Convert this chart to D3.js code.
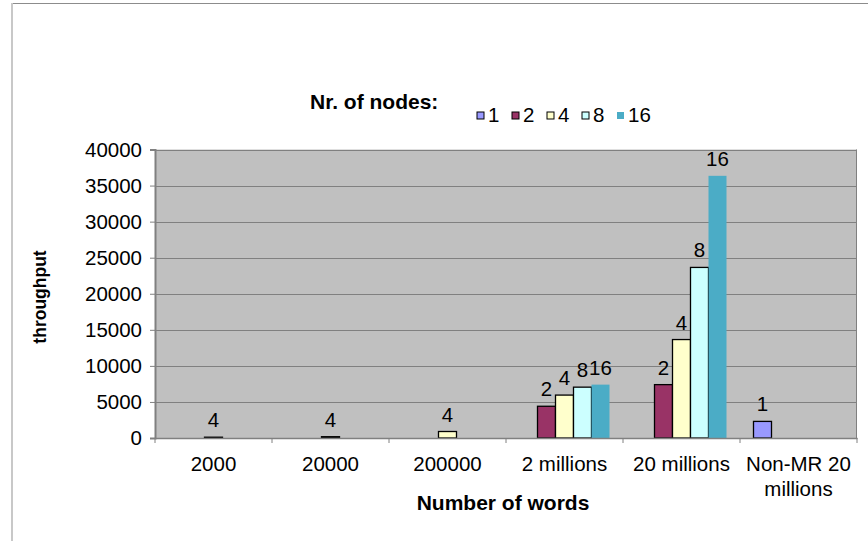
<!DOCTYPE html>
<html><head><meta charset="utf-8">
<script src="https://cdn.jsdelivr.net/npm/d3@7"></script>
<style>
html,body{margin:0;padding:0;background:#fff;}
svg{display:block;font-family:"Liberation Sans",Arial,Helvetica,sans-serif;}
</style></head>
<body>
<svg id="c" width="868" height="541"></svg>
<script>
const categories = ["2000", "20000", "200000", "2 millions", "20 millions", "Non-MR 20 millions"];
const seriesNames = ["1", "2", "4", "8", "16"];
const seriesColors = ["#9999FF", "#993366", "#FFFFCC", "#CCFFFF", "#4BACC6"];
// values per series, aligned with categories (null = no bar)
const s1  = [null, null, null, null, null, 2300];
const s2  = [null, null, null, 4400, 7400, null];
const s4  = [110, 180, 900, 5950, 13650, null];
const s8  = [null, null, null, 7050, 23650, null];
const s16 = [null, null, null, 7400, 36350, null];
const seriesValues = [s1, s2, s4, s8, s16];
const yTicks = [0, 5000, 10000, 15000, 20000, 25000, 30000, 35000, 40000];

const svg = d3.select("#c");
const L = 155, R = 857, T = 149.5, B = 438;
const FS = 20.5;

// outer frame
svg.append("line").attr("x1", 11).attr("x2", 868).attr("y1", 3.5).attr("y2", 3.5).attr("stroke", "#8c8c8c").attr("stroke-width", 1.2);
svg.append("line").attr("x1", 12).attr("x2", 12).attr("y1", 3).attr("y2", 541).attr("stroke", "#c8c8c8").attr("stroke-width", 2);

const x = d3.scaleBand().domain(categories).range([L, R]).padding(0);
const xi = d3.scaleBand().domain(seriesNames).range([x.step() * 1.5 / 13, x.step() * 11.5 / 13]).padding(0);
const y = d3.scaleLinear().domain([0, 40000]).range([B, T]);

// plot area
svg.append("rect").attr("x", L).attr("y", T).attr("width", R - L).attr("height", B - T).attr("fill", "#C0C0C0");
// gridlines
svg.append("g").selectAll("line").data(yTicks.slice(1)).join("line")
  .attr("x1", L).attr("x2", R).attr("y1", d => Math.round(y(d)) + 0.5).attr("y2", d => Math.round(y(d)) + 0.5)
  .attr("stroke", "#808080").attr("stroke-width", 1);
svg.append("line").attr("x1", R - 0.5).attr("x2", R - 0.5).attr("y1", T).attr("y2", B).attr("stroke", "#808080");

// bars
const flat = [];
seriesValues.forEach((arr, si) => arr.forEach((v, ci) => { if (v != null) flat.push({ci, si, v}); }));
const bars = svg.append("g");
bars.selectAll("rect").data(flat).join("rect")
  .attr("x", d => x(categories[d.ci]) + xi(seriesNames[d.si]))
  .attr("y", d => y(d.v))
  .attr("width", xi.bandwidth())
  .attr("height", d => B - y(d.v))
  .attr("fill", d => seriesColors[d.si])
  .attr("stroke", d => d.si === 4 ? "none" : "#000")
  .attr("stroke-width", 1.3);

// data labels
svg.append("g").selectAll("text").data(flat).join("text")
  .attr("x", d => x(categories[d.ci]) + xi(seriesNames[d.si]) + xi.bandwidth() / 2)
  .attr("y", d => y(d.v) - 10)
  .attr("text-anchor", "middle").attr("font-size", FS).attr("fill", "#000")
  .text(d => seriesNames[d.si]);

// y axis
const yAxis = svg.append("g").attr("transform", `translate(${L},0)`)
  .call(d3.axisLeft(y).tickValues(yTicks).tickSize(5).tickPadding(8).tickFormat(d3.format("d")));
yAxis.select(".domain").attr("stroke", "#808080").attr("stroke-width", 2);
yAxis.selectAll(".tick line").attr("stroke", "#808080");
yAxis.selectAll("text").attr("font-size", FS).attr("fill", "#000").attr("font-family", "Liberation Sans, Arial, sans-serif");

// x axis
const xAxis = svg.append("g").attr("transform", `translate(0,${B})`)
  .call(d3.axisBottom(x).tickSize(0).tickFormat(""));
xAxis.select(".domain").attr("stroke", "#808080").attr("stroke-width", 1.5);
svg.append("g").selectAll("line").data(d3.range(categories.length + 1)).join("line")
  .attr("x1", i => L + i * x.step()).attr("x2", i => L + i * x.step())
  .attr("y1", B).attr("y2", B + 5).attr("stroke", "#808080");
const xl = svg.append("g").selectAll("text").data(categories).join("text")
  .attr("x", d => x(d) + x.bandwidth() / 2).attr("y", 471)
  .attr("text-anchor", "middle").attr("font-size", FS).attr("fill", "#000");
xl.each(function(d) {
  const t = d3.select(this);
  if (d === "Non-MR 20 millions") {
    t.append("tspan").attr("x", x(d) + x.bandwidth() / 2).text("Non-MR 20");
    t.append("tspan").attr("x", x(d) + x.bandwidth() / 2).attr("dy", 25).text("millions");
  } else t.text(d);
});

// axis titles
svg.append("text").attr("x", 503).attr("y", 510).attr("text-anchor", "middle")
  .attr("font-size", 21).attr("font-weight", "bold").text("Number of words");
svg.append("text").attr("transform", "translate(46,297) rotate(-90)").attr("text-anchor", "middle")
  .attr("font-size", 17.5).attr("font-weight", "bold").text("throughput");

// legend
svg.append("text").attr("x", 310).attr("y", 109).attr("font-size", 21).attr("font-weight", "bold").text("Nr. of nodes:");
const lx = [477, 512, 547, 582, 617];
const lg = svg.append("g").selectAll("g").data(seriesNames).join("g")
  .attr("transform", (d, i) => `translate(${lx[i]},0)`);
lg.append("rect").attr("x", 0).attr("y", 112).attr("width", 7).attr("height", 7)
  .attr("fill", (d, i) => seriesColors[i]).attr("stroke", (d, i) => i === 4 ? "none" : "#000").attr("stroke-width", 1);
lg.append("text").attr("x", 11).attr("y", 122).attr("font-size", FS).text(d => d);
</script>
</body></html>
